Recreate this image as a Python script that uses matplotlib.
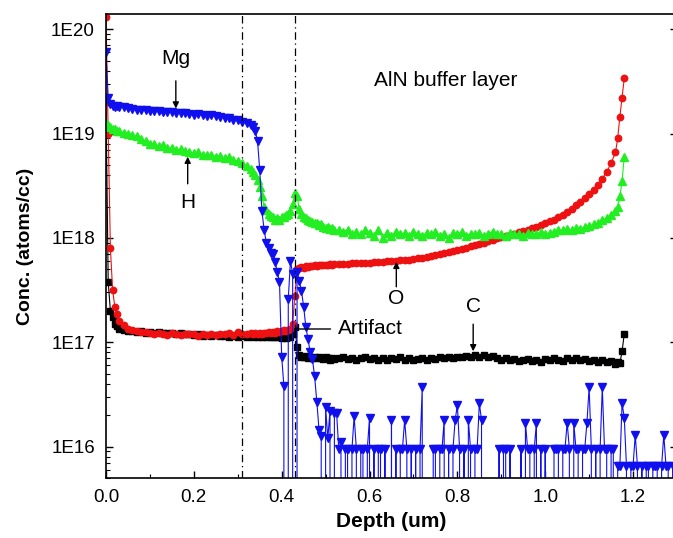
import numpy as np
import matplotlib
matplotlib.use("Agg")
import matplotlib.pyplot as plt
import matplotlib.ticker as ticker

plt.rcParams['font.family'] = ['Liberation Sans', 'DejaVu Sans']

# Depth grid of the SIMS profile (um)
depth = [
    0.000, 0.005, 0.010, 0.015, 0.020, 0.025, 0.030,
    0.04, 0.05, 0.06, 0.07, 0.08, 0.09, 0.10, 0.11, 0.12, 0.13,
    0.14, 0.15, 0.16, 0.17, 0.18, 0.19, 0.20, 0.21, 0.22, 0.23,
    0.24, 0.25, 0.26, 0.27, 0.28, 0.29, 0.30, 0.31, 0.32, 0.33,
    0.335, 0.340, 0.345, 0.350, 0.355, 0.360, 0.365, 0.370, 0.375, 0.380,
    0.385, 0.390, 0.395, 0.400, 0.405, 0.410, 0.415, 0.420, 0.425, 0.430,
    0.435, 0.440, 0.445, 0.450, 0.455, 0.460, 0.465, 0.470, 0.475, 0.480,
    0.485, 0.490, 0.495, 0.500, 0.505, 0.510, 0.515, 0.520,
    0.53, 0.54, 0.55, 0.56, 0.57, 0.58, 0.59, 0.60, 0.61, 0.62,
    0.63, 0.64, 0.65, 0.66, 0.67, 0.68, 0.69, 0.70, 0.71, 0.72,
    0.73, 0.74, 0.75, 0.76, 0.77, 0.78, 0.79, 0.80, 0.81, 0.82,
    0.83, 0.84, 0.85, 0.86, 0.87, 0.88, 0.89, 0.90, 0.91, 0.92,
    0.93, 0.94, 0.95, 0.96, 0.97, 0.98, 0.99, 1.00, 1.01, 1.02,
    1.03, 1.04, 1.05, 1.06, 1.07, 1.08, 1.09, 1.10, 1.11, 1.12,
    1.13, 1.14, 1.15, 1.16, 1.165, 1.170, 1.175, 1.180,
]

conc_O = [
    1.3e20, 1.0e19, 8.0e17, 3.2e17, 2.2e17, 1.85e17, 1.6e17,
    1.45e17, 1.35e17, 1.3e17, 1.27e17, 1.25e17, 1.26e17, 1.22e17, 1.2e17, 1.24e17, 1.2e17,
    1.18e17, 1.22e17, 1.2e17, 1.17e17, 1.21e17, 1.19e17, 1.2e17, 1.16e17, 1.2e17, 1.18e17,
    1.2e17, 1.17e17, 1.21e17, 1.19e17, 1.22e17, 1.18e17, 1.25e17, 1.2e17, 1.19e17, 1.22e17,
    1.2e17, 1.22e17, 1.2e17, 1.23e17, 1.21e17, 1.24e17, 1.22e17, 1.25e17, 1.23e17, 1.26e17,
    1.24e17, 1.27e17, 1.25e17, 1.28e17, 1.3e17, 1.28e17, 1.32e17, 1.35e17, 1.5e17, 2.8e17,
    5.0e17, 5.2e17, 5.3e17, 5.2e17, 5.35e17, 5.3e17, 5.4e17, 5.35e17, 5.45e17, 5.4e17,
    5.5e17, 5.45e17, 5.5e17, 5.55e17, 5.5e17, 5.6e17, 5.55e17, 5.6e17,
    5.6e17, 5.65e17, 5.6e17, 5.7e17, 5.7e17, 5.75e17, 5.8e17, 5.75e17, 5.85e17, 5.9e17,
    5.9e17, 5.95e17, 6.0e17, 6.0e17, 6.1e17, 6.15e17, 6.2e17, 6.3e17, 6.35e17, 6.45e17,
    6.55e17, 6.7e17, 6.8e17, 6.95e17, 7.1e17, 7.3e17, 7.45e17, 7.65e17, 7.85e17, 8.05e17,
    8.3e17, 8.5e17, 8.75e17, 9.0e17, 9.3e17, 9.6e17, 9.9e17, 1.02e18, 1.05e18, 1.07e18,
    1.1e18, 1.13e18, 1.16e18, 1.2e18, 1.24e18, 1.28e18, 1.33e18, 1.38e18, 1.44e18, 1.5e18,
    1.58e18, 1.67e18, 1.78e18, 1.9e18, 2.05e18, 2.2e18, 2.4e18, 2.65e18, 2.9e18, 3.25e18,
    3.7e18, 4.3e18, 5.2e18, 6.6e18, 9.0e18, 1.45e19, 2.2e19, 3.4e19,
]

conc_H = [
    1.25e19, 1.2e19, 1.15e19, 1.1e19, 1.1e19, 1.05e19, 1.05e19,
    1.02e19, 1.0e19, 9.6e18, 9.4e18, 8.8e18, 8.5e18, 8.0e18, 7.9e18, 7.6e18, 7.7e18,
    7.3e18, 7.2e18, 7.0e18, 7.1e18, 6.8e18, 6.7e18, 6.5e18, 6.6e18, 6.3e18, 6.2e18,
    6.3e18, 6.0e18, 6.1e18, 5.8e18, 5.9e18, 5.6e18, 5.4e18, 5.2e18, 4.9e18, 4.6e18,
    4.3e18, 4.0e18, 3.6e18, 3.1e18, 2.5e18, 2.0e18, 1.85e18, 1.7e18, 1.62e18, 1.58e18,
    1.5e18, 1.55e18, 1.5e18, 1.58e18, 1.6e18, 1.65e18, 1.7e18, 1.8e18, 2.1e18, 2.7e18,
    2.5e18, 1.9e18, 1.7e18, 1.6e18, 1.55e18, 1.5e18, 1.45e18, 1.42e18, 1.4e18, 1.38e18,
    1.32e18, 1.35e18, 1.28e18, 1.25e18, 1.28e18, 1.22e18, 1.25e18, 1.2e18,
    1.18e18, 1.15e18, 1.2e18, 1.1e18, 1.15e18, 1.08e18, 1.2e18, 1.12e18, 1.05e18, 1.18e18,
    1.0e18, 1.12e18, 1.05e18, 1.15e18, 1.08e18, 1.12e18, 1.05e18, 1.15e18, 1.1e18, 1.05e18,
    1.12e18, 1.08e18, 1.15e18, 1.05e18, 1.1e18, 1.0e18, 1.12e18, 1.08e18, 1.15e18, 1.05e18,
    1.1e18, 1.08e18, 1.12e18, 1.05e18, 1.1e18, 1.15e18, 1.08e18, 1.1e18, 1.05e18, 1.12e18,
    1.08e18, 1.1e18, 1.05e18, 1.12e18, 1.1e18, 1.08e18, 1.15e18, 1.1e18, 1.12e18, 1.15e18,
    1.2e18, 1.18e18, 1.22e18, 1.2e18, 1.25e18, 1.22e18, 1.28e18, 1.3e18, 1.35e18, 1.4e18,
    1.5e18, 1.55e18, 1.65e18, 1.8e18, 2.0e18, 2.5e18, 3.5e18, 6.0e18,
]

conc_C = [
    2.0e19, 3.8e17, 2.0e17, 1.75e17, 1.5e17, 1.42e17, 1.35e17,
    1.32e17, 1.28e17, 1.27e17, 1.25e17, 1.27e17, 1.24e17, 1.26e17, 1.23e17, 1.25e17, 1.24e17,
    1.22e17, 1.24e17, 1.2e17, 1.22e17, 1.19e17, 1.2e17, 1.17e17, 1.19e17, 1.16e17, 1.18e17,
    1.15e17, 1.17e17, 1.14e17, 1.16e17, 1.13e17, 1.15e17, 1.12e17, 1.14e17, 1.13e17, 1.15e17,
    1.13e17, 1.15e17, 1.12e17, 1.14e17, 1.13e17, 1.15e17, 1.12e17, 1.14e17, 1.13e17, 1.12e17,
    1.14e17, 1.12e17, 1.13e17, 1.11e17, 1.12e17, 1.1e17, 1.12e17, 1.13e17, 1.2e17, 1.4e17,
    9.0e16, 7.6e16, 7.3e16, 7.2e16, 7.4e16, 7.1e16, 7.3e16, 7.0e16, 7.2e16, 7.0e16,
    7.3e16, 7.1e16, 6.9e16, 7.2e16, 7.0e16, 6.8e16, 7.1e16, 6.9e16,
    7.0e16, 7.2e16, 6.9e16, 7.1e16, 6.8e16, 7.0e16, 7.2e16, 6.9e16, 7.1e16, 6.8e16,
    7.0e16, 6.8e16, 7.1e16, 6.9e16, 7.2e16, 6.8e16, 7.0e16, 6.7e16, 6.9e16, 7.1e16,
    6.8e16, 7.0e16, 6.9e16, 7.2e16, 7.0e16, 7.3e16, 7.1e16, 7.3e16, 7.2e16, 7.4e16,
    7.2e16, 7.5e16, 7.3e16, 7.5e16, 7.2e16, 7.4e16, 7.0e16, 6.8e16, 7.0e16, 6.7e16,
    6.9e16, 6.6e16, 6.8e16, 6.9e16, 6.6e16, 6.8e16, 6.5e16, 6.9e16, 6.7e16, 7.0e16,
    6.8e16, 6.6e16, 7.0e16, 6.8e16, 7.1e16, 6.8e16, 6.9e16, 6.6e16, 6.8e16, 6.5e16,
    6.7e16, 6.4e16, 6.6e16, 6.2e16, 6.5e16, 6.3e16, 8.2e16, 1.2e17,
]

# Mg on the same grid down to 0.52 um (0 = no counts, falls off the log axis)
conc_Mg = [
    6.0e19, 2.2e19, 1.9e19, 1.85e19, 1.8e19, 1.82e19, 1.78e19,
    1.78e19, 1.75e19, 1.72e19, 1.7e19, 1.68e19, 1.7e19, 1.66e19, 1.64e19, 1.65e19, 1.62e19,
    1.6e19, 1.62e19, 1.58e19, 1.56e19, 1.58e19, 1.55e19, 1.52e19, 1.54e19, 1.5e19, 1.48e19,
    1.5e19, 1.46e19, 1.44e19, 1.42e19, 1.4e19, 1.36e19, 1.34e19, 1.3e19, 1.27e19, 1.22e19,
    1.15e19, 1.05e19, 8.5e18, 4.5e18, 1.8e18, 1.2e18, 9.0e17, 8.0e17, 7.2e17, 7.0e17,
    5.9e17, 4.7e17, 3.8e17, 7.3e16, 3.8e16, 0, 2.6e17, 6.0e17, 4.5e17, 0,
    4.7e17, 3.9e17, 3.1e17, 2.2e17, 1.4e17, 1.07e17, 8.0e16, 6.9e16, 4.7e16, 2.7e16,
    1.45e16, 1.25e16, 0, 2.4e16, 1.2e16, 2.2e16, 0, 2.1e16,
]

# Mg background (detection limit) region, finer sampling
mg_noise_depth = [
    0.525, 0.530, 0.535, 0.540, 0.545, 0.550, 0.555, 0.560, 0.565, 0.570,
    0.575, 0.580, 0.585, 0.590, 0.595, 0.600, 0.605, 0.610, 0.615, 0.620,
    0.625, 0.630, 0.635, 0.640, 0.645, 0.650, 0.655, 0.660, 0.665, 0.670,
    0.675, 0.680, 0.685, 0.690, 0.695, 0.700, 0.705, 0.710, 0.715, 0.720,
    0.725, 0.730, 0.735, 0.740, 0.745, 0.750, 0.755, 0.760, 0.765, 0.770,
    0.775, 0.780, 0.785, 0.790, 0.795, 0.800, 0.805, 0.810, 0.815, 0.820,
    0.825, 0.830, 0.835, 0.840, 0.845, 0.850, 0.855, 0.860, 0.865, 0.870,
    0.875, 0.880, 0.885, 0.890, 0.895, 0.900, 0.905, 0.910, 0.915, 0.920,
    0.925, 0.930, 0.935, 0.940, 0.945, 0.950, 0.955, 0.960, 0.965, 0.970,
    0.975, 0.980, 0.985, 0.990, 0.995, 1.000, 1.005, 1.010, 1.015, 1.020,
    1.025, 1.030, 1.035, 1.040, 1.045, 1.050, 1.055, 1.060, 1.065, 1.070,
    1.075, 1.080, 1.085, 1.090, 1.095, 1.100, 1.105, 1.110, 1.115, 1.120,
    1.125, 1.130, 1.135, 1.140, 1.145, 1.150, 1.155, 1.160, 1.165, 1.170,
    1.175, 1.180, 1.185, 1.190, 1.195, 1.200, 1.205, 1.210, 1.215, 1.220,
    1.225, 1.230, 1.235, 1.240, 1.245, 1.250, 1.255, 1.260, 1.265, 1.270,
    1.275, 1.280, 1.285, 1.290,
]
mg_noise_conc = [
    2.1e16, 9.5e15, 1.1e16, 0, 9.5e15, 9.5e15, 0, 9.5e15, 1.95e16, 9.5e15,
    0, 9.5e15, 9.5e15, 0, 9.5e15, 1.9e16, 0, 9.5e15, 0, 9.5e15,
    9.5e15, 0, 9.5e15, 0, 0, 1.8e16, 0, 9.5e15, 0, 9.5e15,
    9.5e15, 1.8e16, 9.5e15, 0, 9.5e15, 0, 9.5e15, 0, 9.5e15, 3.7e16,
    0, 0, 0, 0, 9.5e15, 9.5e15, 0, 9.5e15, 9.5e15, 1.8e16,
    0, 9.5e15, 0, 9.5e15, 1.8e16, 2.5e16, 9.5e15, 0, 9.5e15, 0,
    1.8e16, 9.5e15, 0, 9.5e15, 9.5e15, 2.6e16, 1.8e16, 0, 0, 0,
    0, 0, 0, 0, 9.5e15, 0, 9.5e15, 9.5e15, 0, 9.5e15,
    0, 0, 0, 0, 9.5e15, 0, 1.7e16, 9.5e15, 9.5e15, 0,
    9.5e15, 1.7e16, 0, 9.5e15, 0, 9.5e15, 0, 0, 0, 9.5e15,
    9.5e15, 9.5e15, 0, 9.5e15, 9.5e15, 1.7e16, 9.5e15, 0, 1.7e16, 9.5e15,
    9.5e15, 0, 9.5e15, 9.5e15, 1.7e16, 3.7e16, 9.5e15, 0, 9.5e15, 0,
    9.5e15, 3.7e16, 9.5e15, 9.5e15, 0, 9.5e15, 9.5e15, 0, 6.5e15, 6.5e15,
    2.6e16, 1.9e16, 6.5e15, 0, 6.5e15, 6.5e15, 1.3e16, 6.5e15, 0, 6.5e15,
    0, 6.5e15, 6.5e15, 0, 6.5e15, 6.5e15, 6.5e15, 0, 6.5e15, 1.3e16,
    6.5e15, 6.5e15, 0, 6.5e15,
]

interfaces = [0.309, 0.431]

mg_depth = depth[:len(conc_Mg)] + mg_noise_depth
mg_conc = conc_Mg + mg_noise_conc

fig = plt.figure(figsize=(6.73, 5.38), dpi=100)
ax = fig.add_axes([0.1575, 0.1115, 0.8484, 0.8625])
ax.set_yscale('log', nonpositive='clip')

ax.plot(depth, conc_C, color='black', marker='s', ms=4.3, lw=0.8)
ax.plot(depth, conc_O, color='#ee1111', marker='o', ms=4.6, lw=0.8)
ax.plot(depth, conc_H, color='#22ee22', marker='^', ms=5.5, lw=0.8)
ax.plot(mg_depth, mg_conc, color='#1010ee', marker='v', ms=6, lw=0.8)

for xv in interfaces:
    ax.axvline(xv, color='black', lw=0.9, dashes=(6, 3, 1, 3))

ax.set_xlim(0, 1.3)
ax.set_ylim(5e15, 1.4e20)

ax.xaxis.set_major_locator(ticker.MultipleLocator(0.2))
ax.xaxis.set_minor_locator(ticker.MultipleLocator(0.1))
ax.xaxis.set_major_formatter(ticker.FormatStrFormatter('%.1f'))
ax.yaxis.set_major_locator(ticker.LogLocator(base=10, numticks=10))
ax.yaxis.set_minor_locator(ticker.LogLocator(base=10, subs=np.arange(2, 10), numticks=10))
ax.yaxis.set_major_formatter(ticker.FuncFormatter(lambda v, _: "1E%d" % round(np.log10(v))))
ax.yaxis.set_minor_formatter(ticker.NullFormatter())

ax.tick_params(which='both', direction='in', right=True, top=False, labelsize=13.5)
ax.tick_params(which='major', length=5, width=1.0, pad=8)
ax.tick_params(which='minor', length=3, width=0.8)
for sp in ax.spines.values():
    sp.set_linewidth(1.2)

ax.set_xlabel("Depth (um)", fontsize=15, fontweight='bold', labelpad=4)
ax.set_ylabel("Conc. (atoms/cc)", fontsize=14, fontweight='bold', labelpad=12)

arrow = dict(arrowstyle='-|>', color='black', lw=1.0, mutation_scale=9, shrinkA=0, shrinkB=0)
ax.annotate('', xy=(0.159, 1.74e19), xytext=(0.159, 3.2e19), arrowprops=arrow)
ax.text(0.159, 5.3e19, "Mg", fontsize=15, ha='center', va='center')
ax.annotate('', xy=(0.186, 6.0e18), xytext=(0.186, 3.3e18), arrowprops=arrow)
ax.text(0.186, 2.2e18, "H", fontsize=15, ha='center', va='center')
ax.annotate('', xy=(0.661, 5.9e17), xytext=(0.661, 3.4e17), arrowprops=arrow)
ax.text(0.661, 2.6e17, "O", fontsize=15, ha='center', va='center')
ax.annotate('', xy=(0.836, 8.2e16), xytext=(0.836, 1.49e17), arrowprops=arrow)
ax.text(0.836, 2.2e17, "C", fontsize=15, ha='center', va='center')
ax.annotate("Artifact", xy=(0.43, 1.34e17), xytext=(0.527, 1.34e17), fontsize=15, va='center',
            arrowprops=dict(arrowstyle='-', color='black', lw=1.0, shrinkA=3, shrinkB=0))
ax.text(0.611, 3.2e19, "AlN buffer layer", fontsize=15, ha='left', va='center')

fig.savefig("out.png", dpi=100)
